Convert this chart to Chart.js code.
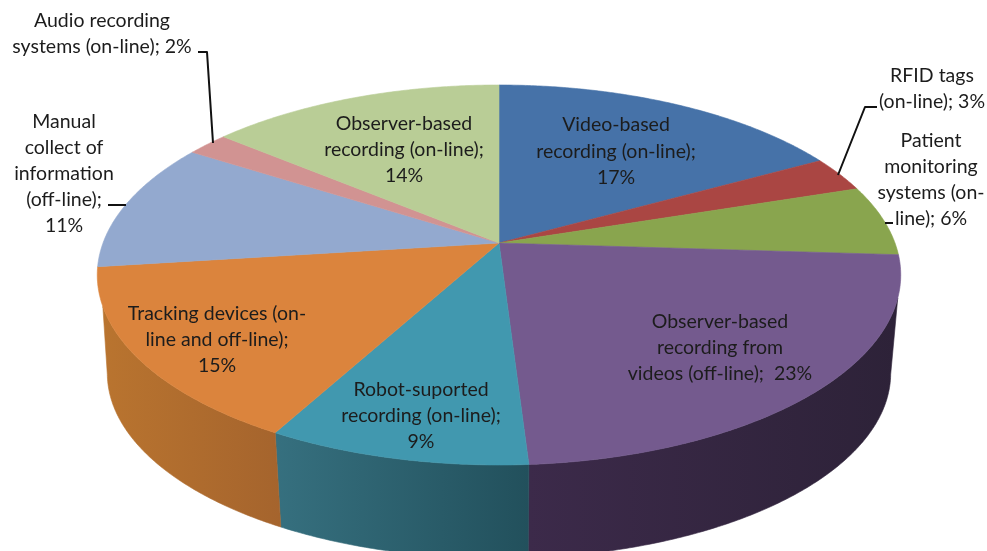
<!DOCTYPE html>
<html>
<head>
<meta charset="utf-8">
<style>html,body{margin:0;padding:0;background:#fff;overflow:hidden}canvas{display:block}</style>
<script src="https://cdn.jsdelivr.net/npm/chart.js@4"></script>
</head>
<body>
<canvas id="c" width="987" height="551"></canvas>
<script>
const categories = ["Video-based recording (on-line)","RFID tags (on-line)","Patient monitoring systems (on-line)","Observer-based recording from videos (off-line)","Robot-suported recording (on-line)","Tracking devices (on-line and off-line)","Manual collect of information (off-line)","Audio recording systems (on-line)","Observer-based recording (on-line)"];
const values = [17,3,6,23,9,15,11,2,14];
const colors = ["#4672a8","#aa4643","#89a54e","#745a8e","#4198af","#db843d","#93a9cf","#d19392","#b9cd96"];
const wallLeft = [null,null,null,"#3c2a4a","#36707f","#b9742f",null,null,null];
const wallRight = [null,null,null,"#2d2238","#22505c","#a5642d",null,null,null];
const labelLines = [
  ["Video-based","recording (on-line);","17%"],
  ["RFID tags","(on-line); 3%"],
  ["Patient","monitoring","systems (on-","line); 6%"],
  ["Observer-based","recording from","videos (off-line);  23%"],
  ["Robot-suported","recording (on-line);","9%"],
  ["Tracking devices (on-","line and off-line);","15%"],
  ["Manual","collect of","information","(off-line);","11%"],
  ["Audio recording","systems (on-line); 2%"],
  ["Observer-based","recording (on-line);","14%"]
];
const labelX = [616,932,931,720,421,217,64,102,404];
const labelTop = [125,76,141,322,390,314,122,21,124];
const labelGap = [26.5,26,26,26,26,26,26,26,26];
const leaders = [
  [[198,52],[207,52],[213,143]],
  [[108,205],[126,205]],
  [[877,107],[865,107],[838,175]],
  [[885,223],[893,223]]
];

// Tilted-disc projection of the pie plane
const CX=499, CY=243, A=396, B=184.6, K=0.1684, DEPTH_S=0.975, DEPTH_CY=342;
function topPt(a){const u=Math.cos(a),v=Math.sin(a),w=1-K*v;return [CX+A*u/w,CY+B*v/w];}
function botPt(a){const u=Math.cos(a),v=Math.sin(a),w=1-K*v;return [CX+DEPTH_S*A*u/w,DEPTH_CY+DEPTH_S*B*v/w];}
const STEP=Math.PI/360, DEG=Math.PI/180;
// Where the wall silhouette leaves the upper and lower rims
const RIM_TOP_RIGHT=16.5*DEG, RIM_BOT_RIGHT=10*DEG, RIM_TOP_LEFT=161*DEG, RIM_BOT_LEFT=170*DEG;

function arcPts(fn,s,e){const r=[];for(let a=s;a<e;a+=STEP)r.push(fn(a));r.push(fn(e));return r;}

const pie3d = {
  id:'pie3d',
  beforeDatasetsDraw(chart){
    const ctx=chart.ctx, arcs=chart.getDatasetMeta(0).data;
    ctx.save();
    arcs.forEach((arc,i)=>{
      if(!wallLeft[i]) return;
      const s=arc.startAngle, e=arc.endAngle;
      const pts=arcPts(topPt,Math.max(s,RIM_TOP_RIGHT),Math.min(e,RIM_TOP_LEFT));
      const low=arcPts(botPt,Math.max(s,RIM_BOT_RIGHT),Math.min(e,RIM_BOT_LEFT));
      const xs=pts.concat(low).map(p=>p[0]);
      const g=ctx.createLinearGradient(Math.min(...xs),0,Math.max(...xs),0);
      g.addColorStop(0,wallLeft[i]);g.addColorStop(1,wallRight[i]);
      ctx.fillStyle=g;ctx.strokeStyle=g;ctx.lineWidth=0.6;
      ctx.beginPath();
      pts.forEach((p,j)=>j?ctx.lineTo(p[0],p[1]):ctx.moveTo(p[0],p[1]));
      low.reverse().forEach(p=>ctx.lineTo(p[0],p[1]));
      ctx.closePath();ctx.fill();ctx.stroke();
    });
    arcs.forEach((arc,i)=>{
      ctx.fillStyle=colors[i];ctx.strokeStyle=colors[i];ctx.lineWidth=0.6;
      ctx.beginPath();ctx.moveTo(CX,CY);
      arcPts(topPt,arc.startAngle,arc.endAngle).forEach(p=>ctx.lineTo(p[0],p[1]));
      ctx.closePath();ctx.fill();ctx.stroke();
    });
    ctx.restore();
    return false;
  },
  afterDraw(chart){
    const ctx=chart.ctx;
    ctx.save();
    ctx.strokeStyle="#111";ctx.lineWidth=2;ctx.lineJoin="round";
    leaders.forEach(l=>{ctx.beginPath();l.forEach((p,j)=>j?ctx.lineTo(p[0],p[1]):ctx.moveTo(p[0],p[1]));ctx.stroke();});
    ctx.fillStyle="#1c1c1c";ctx.textAlign="center";ctx.textBaseline="middle";
    ctx.font='19.5px Lato';
    labelLines.forEach((lines,i)=>lines.forEach((t,j)=>ctx.fillText(t,labelX[i],labelTop[i]+j*labelGap[i])));
    ctx.restore();
  }
};

new Chart(document.getElementById('c'),{
  type:'pie',
  data:{labels:categories,datasets:[{data:values,backgroundColor:colors,borderWidth:0}]},
  options:{responsive:false,animation:false,plugins:{legend:{display:false},tooltip:{enabled:false}}},
  plugins:[pie3d]
});
</script>
</body>
</html>
